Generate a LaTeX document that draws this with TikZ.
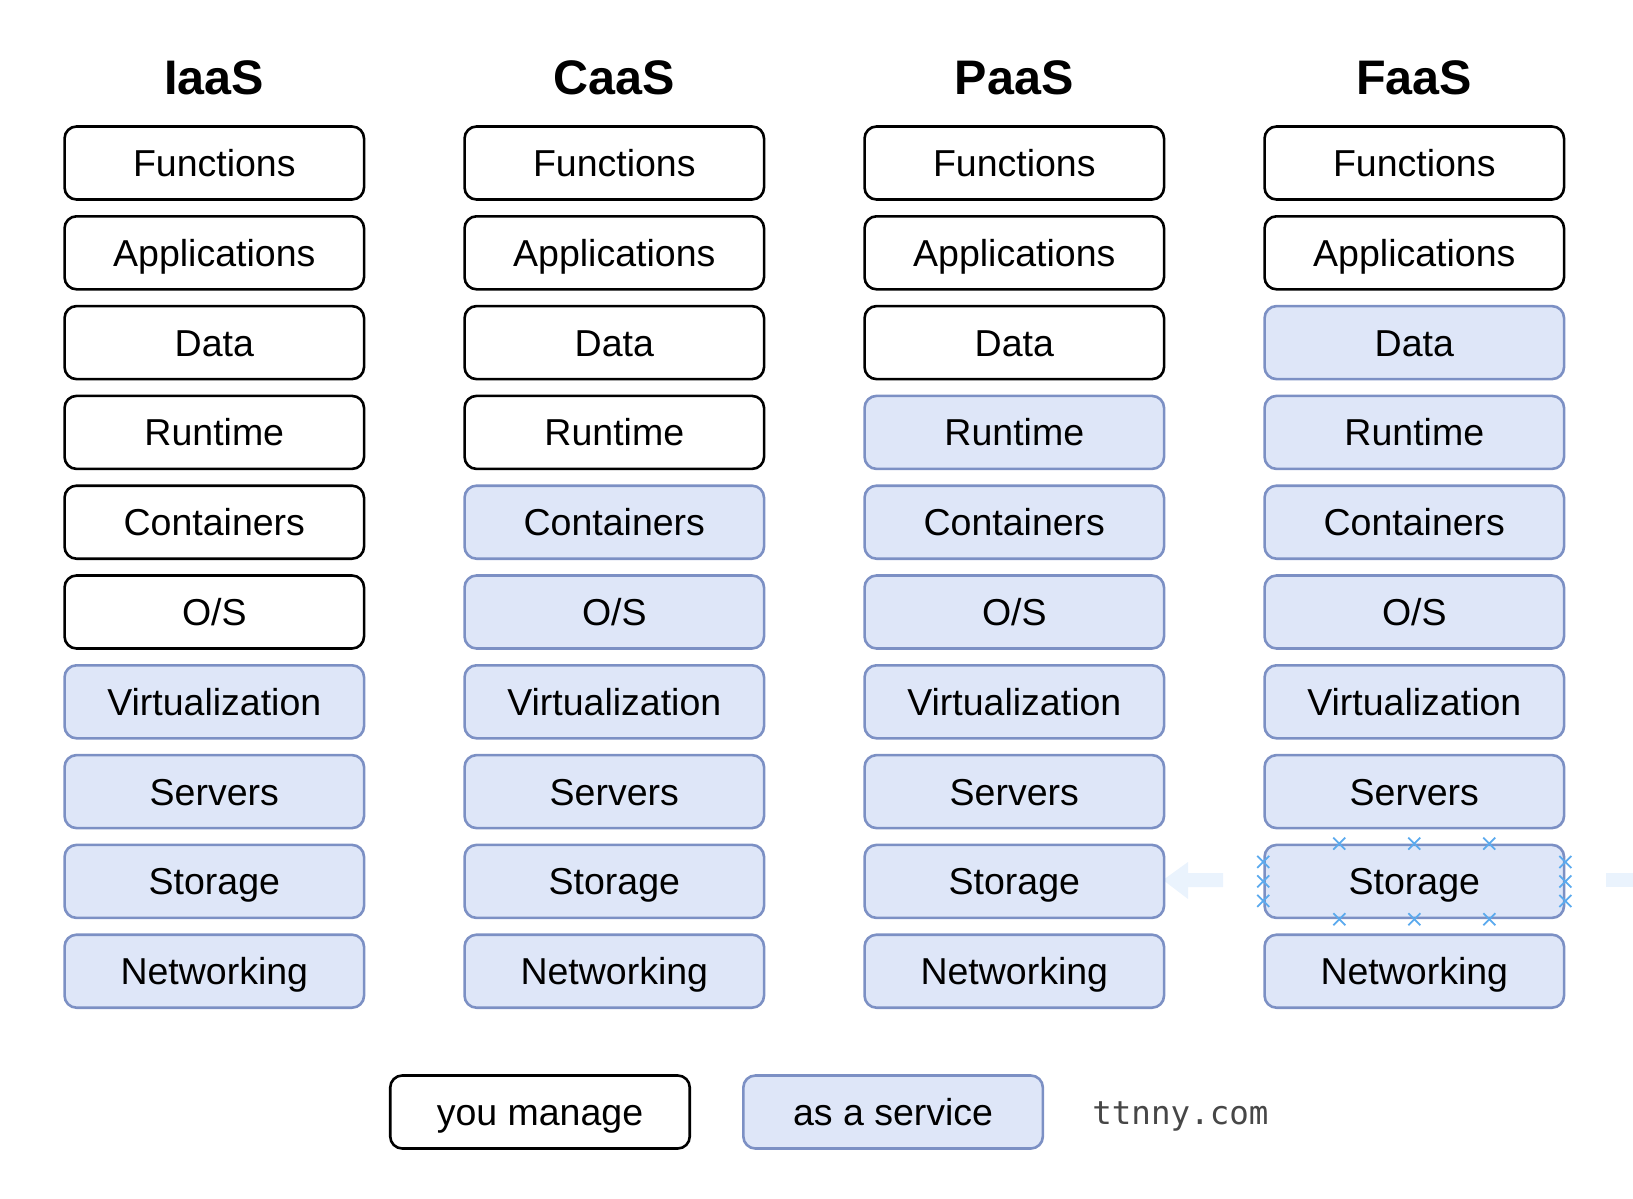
\documentclass[tikz,border=0pt]{standalone}
\usepackage{fontspec}
\setmainfont{Liberation Sans}
\newfontfamily\sitefont{DejaVu Sans Mono}
\usepackage{tikz}
\usetikzlibrary{positioning}
\definecolor{svcfill}{HTML}{DEE6F8}
\definecolor{svcline}{HTML}{7C90C4}
\definecolor{selblue}{HTML}{5BAAEE}
\definecolor{ghost}{HTML}{EAF3FD}

\begin{document}
\begin{tikzpicture}[x=1pt, y=-1pt,
		layer/.style={draw=black, line width=2.6pt, rounded corners=12pt, fill=white,
			minimum width=299.5pt, minimum height=73pt, inner sep=0pt,
			text height=26.8pt, text depth=0pt, font=\fontsize{37.5}{44}\selectfont},
		svc/.style={layer, draw=svcline, fill=svcfill},
		head/.style={inner sep=0pt, text height=34.4pt, text depth=0pt, font=\fontsize{48.5}{56}\selectfont\bfseries},
		selmark/.style={draw=selblue, line width=1.8pt}]
				\useasboundingbox (0,0) rectangle (1633,1199);
				\fill[ghost] (1163,880) -- (1188,862) -- (1188,873) -- (1223,873) -- (1223,887) -- (1188,887) -- (1188,899) -- cycle;
				\fill[ghost] (1606,873) rectangle (1633,887);
				\foreach \col [count=\c] in {IaaS,CaaS,PaaS,FaaS}
					\node[head] (h\c) at ({214.3+400*(\c-1)}, 77) {\col};
				\foreach \mine [count=\c] in {6,4,3,2} {
					\foreach \lbl [count=\r] in {Functions,Applications,Data,Runtime,Containers,O/S,Virtualization,Servers,Storage,Networking} {
						\ifnum\r>\mine \tikzset{cur/.style=svc}\else \tikzset{cur/.style=layer}\fi
						\node[cur] (s\c-\r) at ({214.3+400*(\c-1)}, {163+89.8*(\r-1)}) {\lbl};
					}
				}
				\foreach \dx in {-75,0,75} {
					\draw[selmark] ([shift={(\dx,0)}]s4-9.north) +(-6,-6) -- +(6,6) +(-6,6) -- +(6,-6);
					\draw[selmark] ([shift={(\dx,0)}]s4-9.south) +(-6,-6) -- +(6,6) +(-6,6) -- +(6,-6);
				}
				\foreach \dy in {-19.5,0,19.5} {
					\draw[selmark] ([shift={(0,\dy)}]s4-9.west) +(-6,-6) -- +(6,6) +(-6,6) -- +(6,-6);
					\draw[selmark] ([shift={(0,\dy)}]s4-9.east) +(-6,-6) -- +(6,6) +(-6,6) -- +(6,-6);
				}
				\node[layer] (mine) at (540,1112) {you manage};
				\node[svc, right=51pt of mine] (asvc) {as a service};
				\node[inner sep=0pt, text=black!72, font=\sitefont\fontsize{32.5}{38}\selectfont, right=48pt of asvc, yshift=-4pt] (site) {ttnny.com};
			\end{tikzpicture}
\end{document}
